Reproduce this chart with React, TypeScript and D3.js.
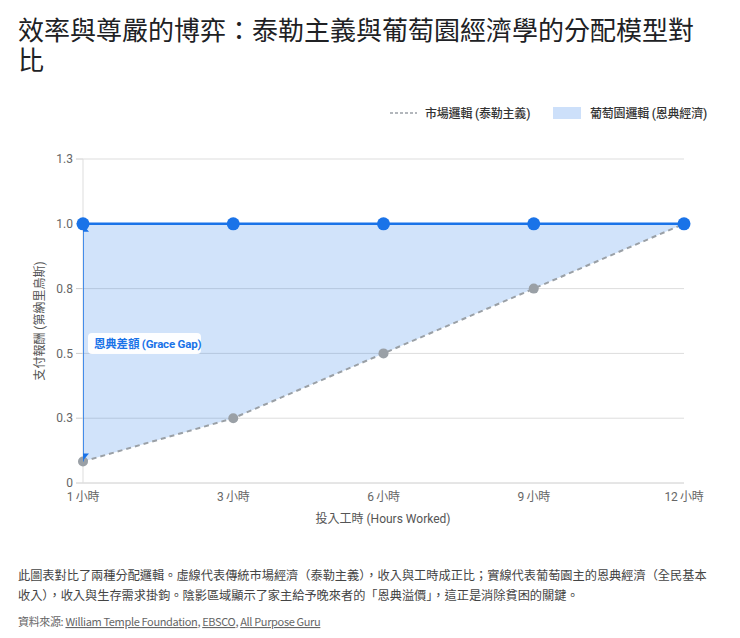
import React, { useEffect } from "react";
import * as d3 from "d3";

const hours = ["1 小時", "3 小時", "6 小時", "9 小時", "12 小時"];
const marketPay = [0.083, 0.25, 0.5, 0.75, 1.0];
const vineyardPay = [1.0, 1.0, 1.0, 1.0, 1.0];
const yTicks = [0, 0.25, 0.5, 0.75, 1.0, 1.25];

const titleLines = ["效率與尊嚴的博弈：泰勒主義與葡萄園經濟學的分配模型對", "比"];
const noteLines = [
  "此圖表對比了兩種分配邏輯。虛線代表傳統市場經濟（泰勒主義），收入與工時成正比；實線代表葡萄園主的恩典經濟（全民基本",
  "收入），收入與生存需求掛鉤。陰影區域顯示了家主給予晚來者的「恩典溢價」，這正是消除貧困的關鍵。",
];
const sources = ["William Temple Foundation", "EBSCO", "All Purpose Guru"];

const W = 740;
const H = 638;
const FONT = "Roboto, 'Noto Sans CJK TC', 'Noto Sans', sans-serif";
const BLUE = "#1a73e8";
const GRAY = "#9aa0a6";

export default function App() {
  useEffect(() => {
    document.body.style.margin = "0";
  }, []);

  const x = d3.scalePoint<string>().domain(hours).range([83, 684]).padding(0);
  const y = d3.scaleLinear().domain([0, 1.25]).range([483, 159]);
  const fmt = (d: number) => (d === 0 ? "0" : d.toFixed(1));

  const area = d3
    .area<number>()
    .x((_, i) => x(hours[i]) as number)
    .y0((_, i) => y(marketPay[i]))
    .y1((d) => y(d));
  const line = d3
    .line<number>()
    .x((_, i) => x(hours[i]) as number)
    .y((d) => y(d));

  const x0 = x(hours[0]) as number;
  const aTop = y(vineyardPay[0]);
  const aBot = y(marketPay[0]);

  return (
    <svg width={W} height={H} style={{ display: "block", background: "#fff" }} fontFamily={FONT}>
      <defs>
        <clipPath id="plotclip">
          <rect x={x0} y={150} width={620} height={340} />
        </clipPath>
      </defs>
      {/* Title */}
      <text x={18} y={40} fontSize={26} fill="#202124" fontFamily="'Noto Sans CJK TC', sans-serif">
        {titleLines.map((t, i) => (
          <tspan key={i} x={18} y={40 + i * 30}>
            {t}
          </tspan>
        ))}
      </text>

      {/* Legend */}
      <g>
        <line x1={390} x2={417} y1={113} y2={113} stroke={GRAY} strokeWidth={1.5} strokeDasharray="3,2" />
        <text x={425} y={117.5} fontSize={12} fill="#333" fontWeight={500} letterSpacing={-0.2}>
          市場邏輯 (泰勒主義)
        </text>
        <rect x={553} y={107} width={28} height={12} fill={BLUE} fillOpacity={0.22} />
        <text x={590} y={117.5} fontSize={12} fill="#333" fontWeight={500} letterSpacing={-0.2}>
          葡萄園邏輯 (恩典經濟)
        </text>
      </g>

      {/* Grid + y axis */}
      <g>
        {yTicks.map((t) => (
          <g key={t}>
            <line x1={x0} x2={684} y1={y(t)} y2={y(t)} stroke={t === 0 ? "#ccc" : "#ddd"} strokeWidth={1} />
            <line x1={76} x2={x0} y1={y(t)} y2={y(t)} stroke="#ccc" strokeWidth={1} />
            <text x={73} y={y(t)} dy="0.35em" textAnchor="end" fontSize={12} fill="#666">
              {fmt(t)}
            </text>
          </g>
        ))}
        <line x1={x0} x2={x0} y1={159} y2={483} stroke="#ddd" strokeWidth={1} />
        <text
          transform={`translate(44,${(159 + 483) / 2}) rotate(-90)`}
          textAnchor="middle"
          fontSize={12}
          fill="#555"
          fontWeight={400}
        >
          支付報酬 (第納里烏斯)
        </text>
      </g>

      {/* x axis labels */}
      <g>
        {hours.map((h) => (
          <text key={h} x={x(h) as number} y={501} textAnchor="middle" fontSize={12} fill="#666" letterSpacing={-0.3}>
            {h}
          </text>
        ))}
        <text x={383} y={523} textAnchor="middle" fontSize={12} fill="#555" fontWeight={400}>
          投入工時 (Hours Worked)
        </text>
      </g>

      {/* Area */}
      <path d={area(vineyardPay) as string} fill={BLUE} fillOpacity={0.2} stroke="none" />

      {/* Market line */}
      <path d={line(marketPay) as string} fill="none" stroke={GRAY} strokeWidth={2} strokeDasharray="5,4" />
      {marketPay.map((v, i) => (
        <circle key={i} cx={x(hours[i]) as number} cy={y(v)} r={5} fill={GRAY} />
      ))}

      {/* Grace gap arrow */}
      <g clipPath="url(#plotclip)">
        <line x1={x0} x2={x0} y1={aTop} y2={aBot} stroke={BLUE} strokeWidth={1.5} />
        <path d={`M${x0},${aTop + 1} L${x0 + 6},${aTop + 8} L${x0 - 6},${aTop + 8} Z`} fill={BLUE} />
        <path d={`M${x0},${aBot - 1} L${x0 + 6},${aBot - 8} L${x0 - 6},${aBot - 8} Z`} fill={BLUE} />
      </g>
      <g>
        <rect x={88} y={333} width={113} height={21} rx={4} fill="#fff" fillOpacity={0.95} />
        <text x={94} y={347.5} fontSize={11.5} fill={BLUE} fontWeight={700} letterSpacing={-0.2}>
          恩典差額 (Grace Gap)
        </text>
      </g>

      {/* Vineyard line */}
      <path d={line(vineyardPay) as string} fill="none" stroke={BLUE} strokeWidth={2.5} />
      {vineyardPay.map((v, i) => (
        <circle key={i} cx={x(hours[i]) as number} cy={y(v)} r={6.5} fill={BLUE} />
      ))}

      {/* Footer */}
      <text fontSize={12.2} fill="#444" fontFamily="'Noto Sans CJK TC', sans-serif">
        {noteLines.map((t, i) => (
          <tspan key={i} x={18} y={580 + i * 19.5}>
            {t}
          </tspan>
        ))}
      </text>
      <text x={18} y={626} fontSize={11} fill="#666" letterSpacing={-0.35} fontFamily="'Noto Sans CJK TC', sans-serif">
        資料來源:{" "}
        {sources.map((s, i) => (
          <tspan key={s}>
            <tspan textDecoration="underline">{s}</tspan>
            {i < sources.length - 1 ? ", " : ""}
          </tspan>
        ))}
      </text>
    </svg>
  );
}
